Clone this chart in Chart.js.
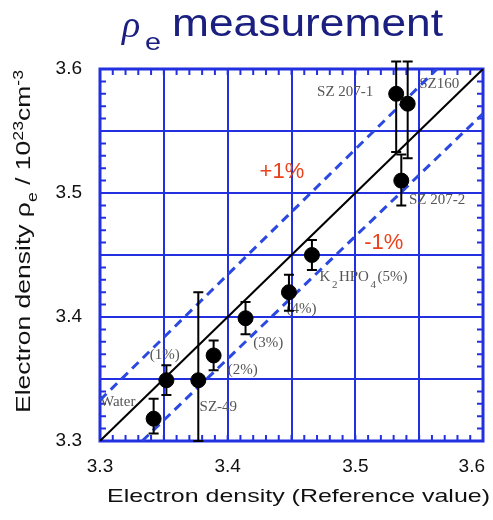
<!DOCTYPE html>
<html lang="en">
<head>
    <meta charset="UTF-8">
    <title>rho_e measurement</title>
    <script src="https://cdn.jsdelivr.net/npm/chart.js"></script>
    <style>
        body { margin: 0; background: #fff; }
        #wrap { width: 493px; height: 520px; }
    </style>
</head>
<body>
    <div id="wrap"><canvas id="rhoChart" width="493" height="520"></canvas></div>
    <script>
        // sample values
        var sampleNames = ['Water', '(1%)', 'SZ-49', '(2%)', '(3%)', '(4%)', 'K2HPO4(5%)', 'SZ207-2', 'SZ207-1', 'SZ160'];
        var refDensity  = [3.342, 3.352, 3.377, 3.389, 3.414, 3.448, 3.466, 3.536, 3.532, 3.541];
        var measDensity = [3.318, 3.349, 3.349, 3.369, 3.399, 3.420, 3.450, 3.510, 3.580, 3.572];
        var errLow      = [3.306, 3.337, 3.300, 3.357, 3.386, 3.405, 3.438, 3.490, 3.533, 3.528];
        var errHigh     = [3.334, 3.361, 3.420, 3.381, 3.412, 3.434, 3.462, 3.531, 3.606, 3.606];

        // reference lines (end points)
        var identityX = [3.3, 3.6];
        var identityY = [3.3, 3.6];
        var plusOneX  = [3.3, 3.564];
        var plusOneY  = [3.333, 3.6];
        var minusOneX = [3.333, 3.6];
        var minusOneY = [3.3, 3.564];

        var tickLabels = ['3.3', '3.4', '3.5', '3.6'];

        // text labels next to the points: [text, x, y]
        var pointLabels = [
            ['Water', 3.300, 3.331],
            ['(1%)', 3.339, 3.369],
            ['SZ-49', 3.378, 3.327],
            ['(2%)', 3.400, 3.357],
            ['(3%)', 3.420, 3.379],
            ['(4%)', 3.446, 3.406],
            ['SZ 207-2', 3.542, 3.494],
            ['SZ 207-1', 3.470, 3.581],
            ['SZ160', 3.550, 3.588]
        ];
        var bandLabels = [['+1%', 3.425, 3.517], ['-1%', 3.507, 3.460]];

        var gridBlue = '#2230e0';

        function toXY(xs, ys) {
            return xs.map(function(x, i) { return {x: x, y: ys[i]}; });
        }

        // draw text stretched to a given width
        function fitText(ctx, text, x, y, width) {
            var w = ctx.measureText(text).width;
            ctx.save();
            ctx.translate(x, y);
            ctx.scale(width / w, 1);
            ctx.fillText(text, 0, 0);
            ctx.restore();
        }

        var decorPlugin = {
            id: 'decor',
            beforeDatasetsDraw: function(chart) {
                var ctx = chart.ctx, a = chart.chartArea;
                var xs = chart.scales.x, ys = chart.scales.y;
                ctx.save();
                // inward minor ticks on all four sides
                ctx.strokeStyle = gridBlue;
                ctx.lineWidth = 2;
                for (var v = 3.3; v <= 3.6001; v += 0.01) {
                    var px = xs.getPixelForValue(v), py = ys.getPixelForValue(v);
                    ctx.beginPath();
                    ctx.moveTo(px, a.bottom); ctx.lineTo(px, a.bottom - 6);
                    ctx.moveTo(px, a.top); ctx.lineTo(px, a.top + 6);
                    ctx.moveTo(a.left, py); ctx.lineTo(a.left + 6, py);
                    ctx.moveTo(a.right, py); ctx.lineTo(a.right - 6, py);
                    ctx.stroke();
                }
                // border
                ctx.lineWidth = 3;
                ctx.strokeRect(a.left, a.top, a.right - a.left, a.bottom - a.top);

                // sample labels
                ctx.fillStyle = '#555';
                ctx.font = '15px "Liberation Serif"';
                ctx.textBaseline = 'middle';
                pointLabels.forEach(function(l) {
                    ctx.fillText(l[0], xs.getPixelForValue(l[1]), ys.getPixelForValue(l[2]));
                });
                // K2HPO4 with subscripts
                var kx = xs.getPixelForValue(3.472), ky = ys.getPixelForValue(3.432);
                var parts = [['K', 0], ['2', 1], ['HPO', 0], ['4', 1], ['(5%)', 0]];
                parts.forEach(function(p) {
                    ctx.font = (p[1] ? '11px' : '15px') + ' "Liberation Serif"';
                    ctx.fillText(p[0], kx, ky + (p[1] ? 8 : 0));
                    kx += ctx.measureText(p[0]).width + 1.5;
                });

                // +1% / -1%
                ctx.fillStyle = '#e8431c';
                ctx.font = '22px "Liberation Sans"';
                bandLabels.forEach(function(l) {
                    ctx.fillText(l[0], xs.getPixelForValue(l[1]), ys.getPixelForValue(l[2]));
                });
                ctx.restore();
            },
            afterDatasetsDraw: function(chart) {
                var ctx = chart.ctx;
                var xs = chart.scales.x, ys = chart.scales.y;
                ctx.save();
                ctx.strokeStyle = '#000';
                ctx.lineWidth = 2;
                refDensity.forEach(function(x, i) {
                    var px = xs.getPixelForValue(x);
                    var lo = ys.getPixelForValue(errLow[i]), hi = ys.getPixelForValue(errHigh[i]);
                    ctx.beginPath();
                    ctx.moveTo(px, lo); ctx.lineTo(px, hi);
                    ctx.moveTo(px - 5, lo); ctx.lineTo(px + 5, lo);
                    ctx.moveTo(px - 5, hi); ctx.lineTo(px + 5, hi);
                    ctx.stroke();
                });
                ctx.restore();
            },
            afterDraw: function(chart) {
                var ctx = chart.ctx, a = chart.chartArea, xs = chart.scales.x;
                ctx.save();
                // x tick labels, kept inside the page on the right
                ctx.fillStyle = '#111';
                ctx.font = '19px "Liberation Sans"';
                ctx.textAlign = 'center';
                ctx.textBaseline = 'middle';
                tickLabels.forEach(function(t) {
                    var w = ctx.measureText(t).width;
                    var px = Math.min(xs.getPixelForValue(parseFloat(t)), 485 - w / 2);
                    ctx.fillText(t, px, a.bottom + 26);
                });
                ctx.textAlign = 'left';

                // main title
                ctx.fillStyle = '#1b2080';
                ctx.textBaseline = 'alphabetic';
                ctx.font = 'italic 38px "Liberation Serif"';
                ctx.fillText('\u03C1', 122, 37);
                ctx.font = '24px "Liberation Sans"';
                fitText(ctx, 'e', 145, 50, 16);
                ctx.font = '38px "Liberation Sans"';
                fitText(ctx, 'measurement', 172, 36, 271);

                // x axis title
                ctx.fillStyle = '#111';
                ctx.font = '19px "Liberation Sans"';
                fitText(ctx, 'Electron density (Reference value)', 107, 502, 383);

                // y axis title, stretched along its length
                ctx.translate(30, 413);
                ctx.rotate(-Math.PI / 2);
                var segs = [['Electron density \u03C1', 0], ['e', 1], [' / 10', 0], ['23', -1], ['cm', 0], ['-3', -1]];
                var total = 0;
                segs.forEach(function(s) {
                    ctx.font = (s[1] ? '14px' : '21px') + ' "Liberation Sans"';
                    total += ctx.measureText(s[0]).width;
                });
                ctx.scale(343 / total, 1);
                var cx = 0;
                segs.forEach(function(s) {
                    ctx.font = (s[1] ? '14px' : '21px') + ' "Liberation Sans"';
                    ctx.fillText(s[0], cx, s[1] * 7);
                    cx += ctx.measureText(s[0]).width;
                });
                ctx.restore();
            }
        };

        function tickText(v) {
            var s = v.toFixed(1);
            return (Math.abs(v * 10 - Math.round(v * 10)) < 1e-6 && tickLabels.indexOf(s) >= 0) ? s : '';
        }

        var ctx = document.getElementById('rhoChart').getContext('2d');
        var rhoChart = new Chart(ctx, {
            type: 'scatter',
            data: {
                datasets: [
                    {
                        label: 'rho_e',
                        data: toXY(refDensity, measDensity),
                        backgroundColor: '#000',
                        borderColor: '#000',
                        pointRadius: 7.5,
                        order: 0
                    },
                    {
                        label: 'identity',
                        type: 'line',
                        data: toXY(identityX, identityY),
                        borderColor: '#000',
                        borderWidth: 2,
                        pointRadius: 0,
                        order: 1
                    },
                    {
                        label: '+1%',
                        type: 'line',
                        data: toXY(plusOneX, plusOneY),
                        borderColor: '#2b49e0',
                        borderWidth: 3,
                        borderDash: [9, 6],
                        pointRadius: 0,
                        order: 2
                    },
                    {
                        label: '-1%',
                        type: 'line',
                        data: toXY(minusOneX, minusOneY),
                        borderColor: '#2b49e0',
                        borderWidth: 3,
                        borderDash: [9, 6],
                        pointRadius: 0,
                        order: 2
                    }
                ]
            },
            options: {
                responsive: false,
                animation: false,
                layout: { padding: { top: 69, right: 10, left: 0, bottom: 0 } },
                plugins: {
                    legend: { display: false },
                    tooltip: { enabled: false }
                },
                scales: {
                    x: {
                        type: 'linear',
                        min: 3.3,
                        max: 3.6,
                        afterFit: function(scale) {
                            scale.height = 79;
                            scale.paddingLeft = 0;
                            scale.paddingRight = 0;
                        },
                        border: { display: false },
                        grid: { color: gridBlue, lineWidth: 2, drawTicks: false },
                        ticks: {
                            stepSize: 0.05,
                            display: false
                        }
                    },
                    y: {
                        type: 'linear',
                        min: 3.3,
                        max: 3.6,
                        afterFit: function(scale) { scale.width = 100; },
                        border: { display: false },
                        grid: { color: gridBlue, lineWidth: 2, drawTicks: false },
                        ticks: {
                            stepSize: 0.05,
                            padding: 18,
                            color: '#111',
                            font: { family: 'Liberation Sans', size: 19 },
                            callback: tickText
                        }
                    }
                }
            },
            plugins: [decorPlugin]
        });
    </script>
</body>
</html>
